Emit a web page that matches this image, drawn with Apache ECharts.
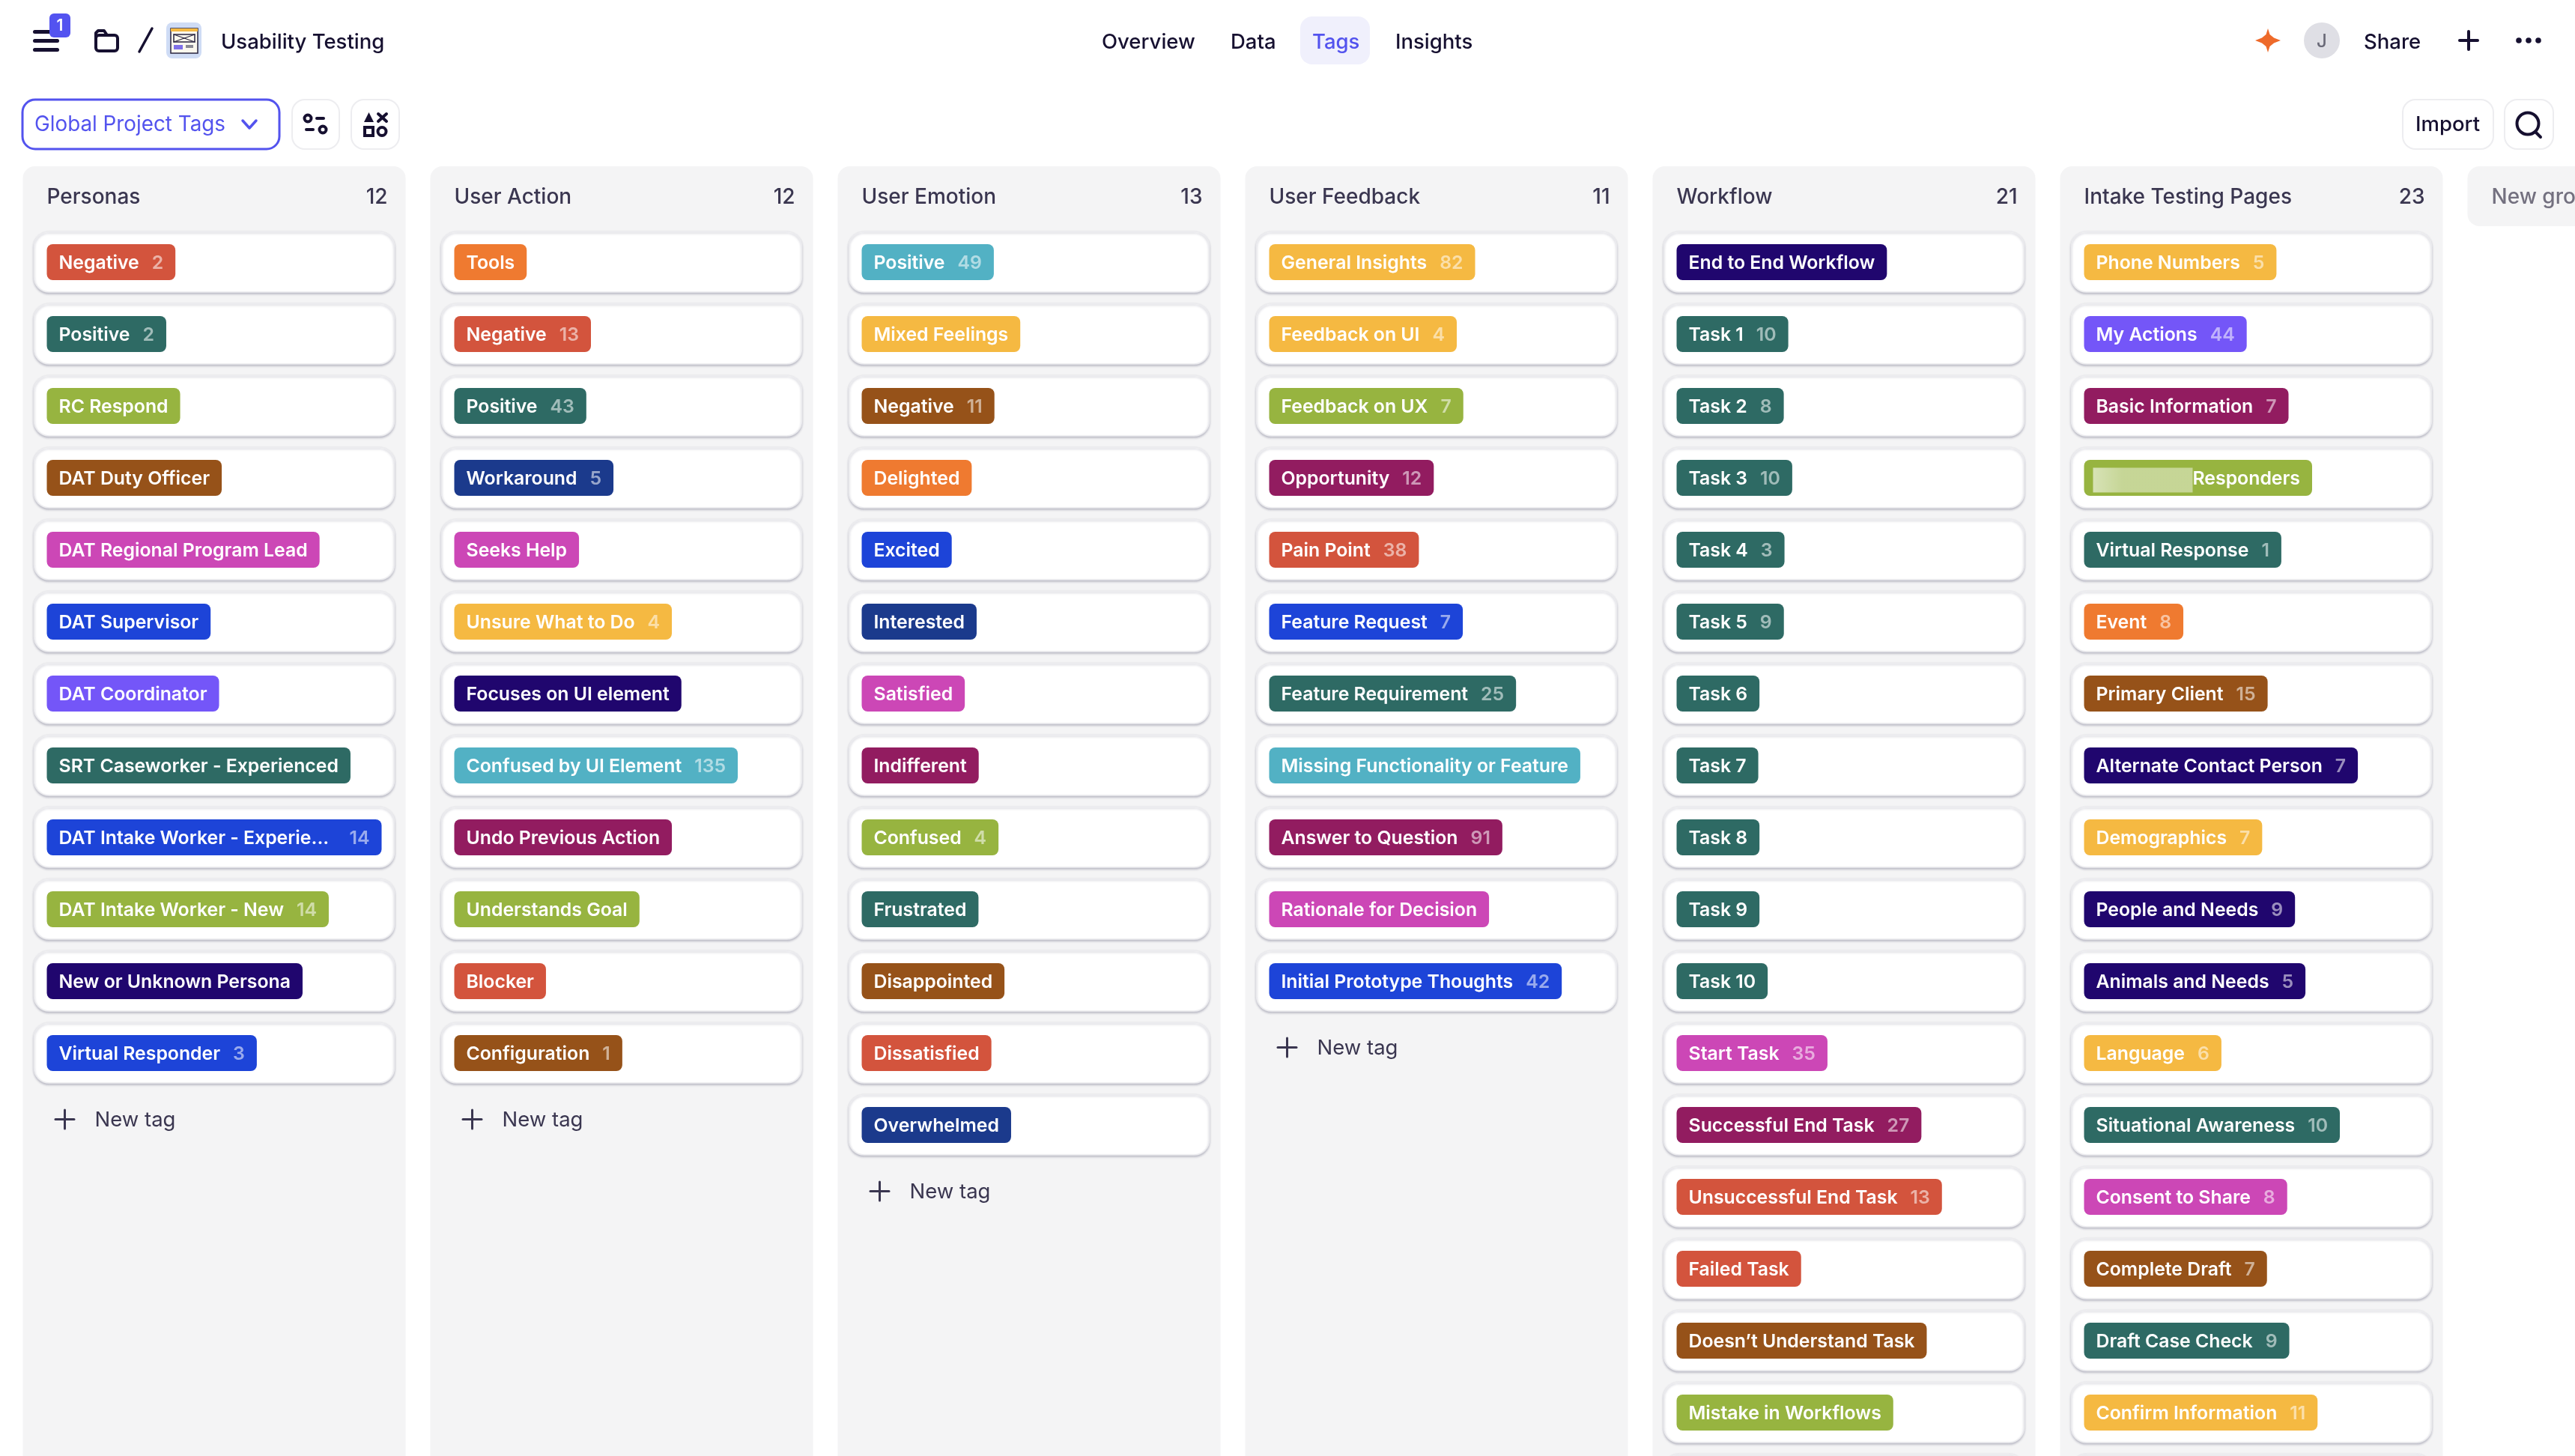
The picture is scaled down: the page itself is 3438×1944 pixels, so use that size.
<!DOCTYPE html>
<html>
<head>
<meta charset="utf-8">
<title>Usability Testing - Tags</title>
<style>
html, body { margin: 0; padding: 0; background: #fff; overflow: hidden; }
#main { width: 3438px; height: 1944px; }
</style>
<script src="https://cdn.jsdelivr.net/npm/echarts@6/dist/echarts.min.js"></script>
</head>
<body>
<div id="main"></div>
<script>
// columns
var groupNames = ['Personas', 'User Action', 'User Emotion', 'User Feedback', 'Workflow', 'Intake Testing Pages', 'New group'];
var groupCounts = [12, 12, 13, 11, 21, 23, null];

// tags per column, null = no count shown on the tag
var personasNames = ['Negative', 'Positive', 'RC Respond', 'DAT Duty Officer', 'DAT Regional Program Lead', 'DAT Supervisor', 'DAT Coordinator', 'SRT Caseworker - Experienced', 'DAT Intake Worker - Experie...', 'DAT Intake Worker - New', 'New or Unknown Persona', 'Virtual Responder'];
var personasCounts = [2, 2, null, null, null, null, null, null, 14, 14, null, 3];
var personasHues = ['red', 'teal', 'olive', 'brown', 'pink', 'blue', 'purple', 'teal', 'blue', 'olive', 'indigo', 'blue'];

var actionNames = ['Tools', 'Negative', 'Positive', 'Workaround', 'Seeks Help', 'Unsure What to Do', 'Focuses on UI element', 'Confused by UI Element', 'Undo Previous Action', 'Understands Goal', 'Blocker', 'Configuration'];
var actionCounts = [null, 13, 43, 5, null, 4, null, 135, null, null, null, 1];
var actionHues = ['orange', 'red', 'teal', 'navy', 'pink', 'yellow', 'indigo', 'cyan', 'magenta', 'olive', 'red', 'brown'];

var emotionNames = ['Positive', 'Mixed Feelings', 'Negative', 'Delighted', 'Excited', 'Interested', 'Satisfied', 'Indifferent', 'Confused', 'Frustrated', 'Disappointed', 'Dissatisfied', 'Overwhelmed'];
var emotionCounts = [49, null, 11, null, null, null, null, null, 4, null, null, null, null];
var emotionHues = ['cyan', 'yellow', 'brown', 'orange', 'blue', 'navy', 'pink', 'magenta', 'olive', 'teal', 'brown', 'red', 'navy'];

var feedbackNames = ['General Insights', 'Feedback on UI', 'Feedback on UX', 'Opportunity', 'Pain Point', 'Feature Request', 'Feature Requirement', 'Missing Functionality or Feature', 'Answer to Question', 'Rationale for Decision', 'Initial Prototype Thoughts'];
var feedbackCounts = [82, 4, 7, 12, 38, 7, 25, null, 91, null, 42];
var feedbackHues = ['yellow', 'yellow', 'olive', 'magenta', 'red', 'blue', 'teal', 'cyan', 'magenta', 'pink', 'blue'];

// the last entry of the next two lists is the card cut off by the window
var workflowNames = ['End to End Workflow', 'Task 1', 'Task 2', 'Task 3', 'Task 4', 'Task 5', 'Task 6', 'Task 7', 'Task 8', 'Task 9', 'Task 10', 'Start Task', 'Successful End Task', 'Unsuccessful End Task', 'Failed Task', 'Doesn\u2019t Understand Task', 'Mistake in Workflows', ''];
var workflowCounts = [null, 10, 8, 10, 3, 9, null, null, null, null, null, 35, 27, 13, null, null, null, null];
var workflowHues = ['indigo', 'teal', 'teal', 'teal', 'teal', 'teal', 'teal', 'teal', 'teal', 'teal', 'teal', 'pink', 'magenta', 'red', 'red', 'brown', 'olive', 'olive'];

var intakeNames = ['Phone Numbers', 'My Actions', 'Basic Information', 'Responders', 'Virtual Response', 'Event', 'Primary Client', 'Alternate Contact Person', 'Demographics', 'People and Needs', 'Animals and Needs', 'Language', 'Situational Awareness', 'Consent to Share', 'Complete Draft', 'Draft Case Check', 'Confirm Information', ''];
var intakeCounts = [5, 44, 7, null, 1, 8, 15, 7, 7, 9, 5, 6, 10, 8, 7, 9, 11, null];
var intakeHues = ['yellow', 'purple', 'magenta', 'olive', 'teal', 'orange', 'brown', 'indigo', 'yellow', 'indigo', 'indigo', 'yellow', 'teal', 'pink', 'brown', 'teal', 'yellow', 'yellow'];

var palette = {
	red: '#d3543d', teal: '#2e6a64', olive: '#97b440', brown: '#965219', pink: '#cc47b6',
	blue: '#1d44d8', purple: '#7456f8', indigo: '#20066e', navy: '#1b3a8c', orange: '#ef7a30',
	yellow: '#f5b942', cyan: '#52b1c4', magenta: '#921c60'
};

var DARK = '#161030';
var HEAD = '#3a3650';
var ACCENT = '#5353ee';
var TAG_FONT = '600 24.8px Inter';
var HEAD_FONT = '500 28px Inter';
var NAV_FONT = '500 27.5px Inter';

var ctx = document.createElement('canvas').getContext('2d');
function textWidth(text, font) {
	ctx.font = font;
	return ctx.measureText(text).width;
}

// flatten the lists into what the custom series wants
var tagRows = [];
function addColumn(col, names, counts, hues) {
	for(var i = 0; i < names.length; i++) {
		tagRows.push([col, i, names[i], counts[i], hues[i]]);
	}
}
addColumn(0, personasNames, personasCounts, personasHues);
addColumn(1, actionNames, actionCounts, actionHues);
addColumn(2, emotionNames, emotionCounts, emotionHues);
addColumn(3, feedbackNames, feedbackCounts, feedbackHues);
addColumn(4, workflowNames, workflowCounts, workflowHues);
addColumn(5, intakeNames, intakeCounts, intakeHues);

// number of rows before the "New tag" line; the last two columns run off the window
var columnRows = [personasNames.length, actionNames.length, emotionNames.length, feedbackNames.length, null, null, null];
var rowLabels = [];
for(var r = 0; r < 18; r++) {
	rowLabels.push(String(r));
}

function renderGroup(params, api) {
	var col = api.value(0);
	var p = api.coord([col, 0]);
	var left = p[0] - 255.5;
	var right = p[0] + 255.5;
	var isNew = groupCounts[col] === null;
	var kids = [{
		type: 'rect',
		shape: { x: left, y: 222, width: 511, height: isNew ? 80 : 1800, r: 16 },
		style: { fill: '#f4f4f5' }
	}, {
		type: 'text',
		style: { x: left + 32, y: 264, text: groupNames[col], font: HEAD_FONT, fill: isNew ? '#73707f' : HEAD, verticalAlign: 'middle' }
	}];
	if(!isNew) {
		kids.push({
			type: 'text',
			style: { x: right - 24, y: 264, text: String(groupCounts[col]), font: HEAD_FONT, fill: HEAD, align: 'right', verticalAlign: 'middle' }
		});
	}
	if(columnRows[col]) {
		var y = api.coord([col, columnRows[col]])[1] - 7;
		kids.push({
			type: 'rect', shape: { x: left + 42, y: y - 1.5, width: 28, height: 3, r: 1.5 }, style: { fill: HEAD }
		}, {
			type: 'rect', shape: { x: left + 54.5, y: y - 14, width: 3, height: 28, r: 1.5 }, style: { fill: HEAD }
		}, {
			type: 'text',
			style: { x: left + 96, y: y + 1, text: 'New tag', font: '400 27.5px Inter', fill: HEAD, verticalAlign: 'middle' }
		});
	}
	return { type: 'group', children: kids };
}

function renderTag(params, api) {
	var p = api.coord([api.value(0), api.value(1)]);
	var name = tagRows[params.dataIndex][2];
	var count = tagRows[params.dataIndex][3];
	var hue = tagRows[params.dataIndex][4];
	var left = p[0] - 240.5;
	var kids = [{
		type: 'rect',
		shape: { x: left, y: p[1] - 40.5, width: 481, height: 81, r: 20 },
		style: { fill: '#fff', stroke: '#ebebee', lineWidth: 1.5, shadowBlur: 3, shadowOffsetY: 2, shadowColor: 'rgba(70,70,100,0.28)' }
	}];
	if(name === '') {
		return { type: 'group', children: kids };
	}
	var tagX = left + 17;
	var textX = tagX + 16;
	var redacted = name === 'Responders';
	if(redacted) {
		textX = tagX + 145;
	}
	var w = textX - tagX + textWidth(name, TAG_FONT) + 16;
	if(count !== null) {
		w += 17 + textWidth(String(count), TAG_FONT);
	}
	// a shortened name means the tag has taken all the room in the card
	if(name.slice(-3) === '...') {
		w = 447;
	}
	kids.push({
		type: 'rect',
		shape: { x: tagX, y: p[1] - 23.5, width: w, height: 48, r: 8 },
		style: { fill: palette[hue] }
	});
	if(redacted) {
		kids.push({
			type: 'rect',
			shape: { x: tagX + 12, y: p[1] - 13, width: 133, height: 33 },
			style: {
				fill: new echarts.graphic.LinearGradient(0, 0, 1, 0, [
					{ offset: 0, color: 'rgba(255,255,255,0.62)' },
					{ offset: 0.3, color: 'rgba(255,255,255,0.45)' },
					{ offset: 1, color: 'rgba(255,255,255,0.45)' }
				])
			}
		});
	}
	kids.push({
		type: 'text',
		style: { x: textX, y: p[1] + 2.5, text: name, font: TAG_FONT, fill: '#fff', verticalAlign: 'middle' }
	});
	if(count !== null) {
		kids.push({
			type: 'text',
			style: { x: tagX + w - 16, y: p[1] + 2.5, text: String(count), font: TAG_FONT, fill: 'rgba(255,255,255,0.55)', align: 'right', verticalAlign: 'middle' }
		});
	}
	return { type: 'group', children: kids };
}

function button(x, y, w, h, stroke, lw) {
	return { type: 'rect', silent: true, shape: { x: x, y: y, width: w, height: h, r: 17 }, style: { fill: '#fff', stroke: stroke, lineWidth: lw } };
}
function bar(x, y, w, h, fill, r) {
	return { type: 'rect', silent: true, shape: { x: x, y: y, width: w, height: h, r: r === undefined ? Math.min(w, h) / 2 : r }, style: { fill: fill } };
}
function ring(cx, cy, rad, lw, color) {
	return { type: 'circle', silent: true, shape: { cx: cx, cy: cy, r: rad }, style: { fill: 'none', stroke: color, lineWidth: lw } };
}
function label(x, text, font, fill, y) {
	return { type: 'text', silent: true, style: { x: x, y: y === undefined ? 57 : y, text: text, font: font, fill: fill, verticalAlign: 'middle' } };
}
function stroke(path, color, lw) {
	return { type: 'polyline', silent: true, shape: { points: path }, style: { fill: 'none', stroke: color, lineWidth: lw, lineCap: 'round', lineJoin: 'round' } };
}

var chrome = [
	// top left
	bar(44, 40, 35, 5, DARK), bar(44, 52, 35, 5, DARK), bar(44, 64, 35, 5, DARK),
	bar(66, 18, 28, 32, '#5353f0', 6),
	{ type: 'text', silent: true, style: { x: 80, y: 35, text: '1', font: '600 21px Inter', fill: '#fff', align: 'center', verticalAlign: 'middle' } },
	{ type: 'rect', silent: true, shape: { x: 128, y: 47, width: 29, height: 21, r: 4 }, style: { fill: 'none', stroke: DARK, lineWidth: 4 } },
	stroke([[128, 50], [128, 44], [131, 41], [139, 41], [143, 47]], DARK, 4),
	stroke([[186, 69], [203, 38]], DARK, 3.5),
	bar(222, 30, 47, 48, '#cfdcf5', 8),
	{ type: 'rect', silent: true, shape: { x: 228, y: 38, width: 36, height: 33 }, style: { fill: '#fbf8ee', stroke: '#2a2540', lineWidth: 1.5 } },
	bar(228, 38, 36, 4, '#f5b942', 0),
	{ type: 'rect', silent: true, shape: { x: 232, y: 46, width: 28, height: 10 }, style: { fill: 'none', stroke: '#2a2540', lineWidth: 1.5 } },
	stroke([[232, 46], [260, 56]], '#2a2540', 1.2), stroke([[232, 56], [260, 46]], '#2a2540', 1.2),
	bar(232, 60, 12, 6, '#7f70e8', 0), bar(248, 60, 10, 4, '#8a8a94', 0),
	label(295, 'Usability Testing', NAV_FONT, DARK),
	// nav
	bar(1736, 22, 93, 64, '#f0f0fc', 16),
	label(1471, 'Overview', NAV_FONT, DARK),
	label(1643, 'Data', NAV_FONT, DARK),
	label(1752, 'Tags', NAV_FONT, ACCENT),
	label(1863, 'Insights', NAV_FONT, DARK),
	// top right
	{ type: 'polygon', silent: true, shape: { points: [[3028, 38], [3030.5, 46], [3036, 50.5], [3045, 54], [3036, 57.5], [3030.5, 62], [3028, 70], [3025.5, 62], [3020, 57.5], [3011, 54], [3020, 50.5], [3025.5, 46]] }, style: { fill: '#ee6a2a' } },
	{ type: 'circle', silent: true, shape: { cx: 3100, cy: 54, r: 24 }, style: { fill: '#dfdfe5' } },
	{ type: 'text', silent: true, style: { x: 3100, y: 56, text: 'J', font: '500 24px Inter', fill: '#6a6a78', align: 'center', verticalAlign: 'middle' } },
	label(3156, 'Share', NAV_FONT, DARK),
	bar(3282, 52, 28, 4, DARK), bar(3294, 40, 4, 28, DARK),
	{ type: 'circle', silent: true, shape: { cx: 3363, cy: 54, r: 3.8 }, style: { fill: DARK } },
	{ type: 'circle', silent: true, shape: { cx: 3376, cy: 54, r: 3.8 }, style: { fill: DARK } },
	{ type: 'circle', silent: true, shape: { cx: 3389, cy: 54, r: 3.8 }, style: { fill: DARK } },
	// second row, left
	button(30, 133, 343, 66, ACCENT, 3),
	label(46, 'Global Project Tags', '400 27.8px Inter', ACCENT, 167),
	stroke([[324, 161], [333, 171], [342, 161]], ACCENT, 3.5),
	button(390, 133, 63, 66, '#ededf0', 2),
	ring(411, 158, 4.5, 4, DARK), bar(421, 156, 13, 4, DARK),
	bar(407, 171, 13, 4, DARK), ring(431, 173, 4.5, 4, DARK),
	button(469, 133, 64, 66, '#ededf0', 2),
	{ type: 'polygon', silent: true, shape: { points: [[492.5, 150], [499, 163], [486, 163]] }, style: { fill: DARK } },
	stroke([[505, 152], [516, 162]], DARK, 4), stroke([[516, 152], [505, 162]], DARK, 4),
	{ type: 'rect', silent: true, shape: { x: 487, y: 170, width: 11, height: 11 }, style: { fill: 'none', stroke: DARK, lineWidth: 4 } },
	ring(510, 175.5, 5.5, 4, DARK),
	// second row, right
	button(3208, 133, 121, 66, '#ededf0', 2),
	label(3225, 'Import', NAV_FONT, DARK, 167),
	button(3344, 133, 65, 66, '#ededf0', 2),
	ring(3375, 165, 14.5, 4, DARK),
	stroke([[3385, 176], [3392, 183]], DARK, 4)
];

var myChart = echarts.init(document.getElementById('main'), null, { renderer: 'canvas', width: 3438, height: 1944 });
var option = {
	animation: false,
	backgroundColor: '#fff',
	// the board is wider and taller than the window, like the scrolled page
	grid: { left: 14, top: 301.5, width: 3808, height: 1728, containLabel: false, outerBoundsMode: 'none' },
	xAxis: { type: 'category', data: groupNames, show: false },
	yAxis: { type: 'category', data: rowLabels, inverse: true, show: false },
	graphic: { elements: chrome },
	series: [{
		name: 'groups',
		type: 'custom',
		coordinateSystem: 'cartesian2d',
		renderItem: renderGroup,
		encode: { x: 0, y: 1 },
		silent: true,
		z: 1,
		data: groupNames.map(function(g, i) { return [i, 0]; })
	}, {
		name: 'tags',
		type: 'custom',
		coordinateSystem: 'cartesian2d',
		renderItem: renderTag,
		encode: { x: 0, y: 1 },
		silent: true,
		z: 2,
		data: tagRows.map(function(t) { return [t[0], t[1]]; })
	}]
};
myChart.setOption(option);
</script>
</body>
</html>
